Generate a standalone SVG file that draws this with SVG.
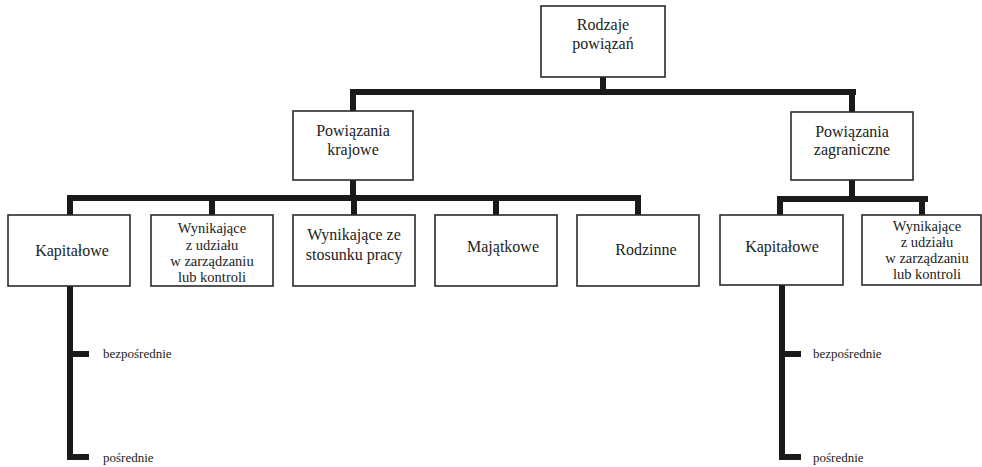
<svg xmlns="http://www.w3.org/2000/svg" width="982" height="467" viewBox="0 0 982 467">
<style>
text{font-family:'Liberation Serif','Times New Roman','DejaVu Serif',serif}
.box{fill:#fff;stroke:#2a2a2a;stroke-width:1.6}
.t{font-size:16px;fill:#222;text-anchor:middle}
.s{font-size:14.5px}
.sm{font-size:13px;fill:#222}
.c{fill:none;stroke:#1a1a1a;stroke-width:6;stroke-linejoin:miter;stroke-linecap:butt}
</style>
<rect width="982" height="467" fill="#fff"/>
<g id="connectors">
<path class="c" d="M603 77V92M350 92H856M353 92V111M852 92V112"/>
<path class="c" d="M353 180V198M67 198H641M70 198V215M212 198V215M354 198V215M496 198V215M638 198V215"/>
<path class="c" d="M852 180V199M780 202V199H925V202M780 199V215M922 199V215"/>
<path class="c" d="M70 286V457H89M70 354H89"/>
<path class="c" d="M782 285V457H801M782 354H801"/>
</g>
<g id="n-rodzaje"><rect class="box" x="541" y="6" width="124" height="71"/><text class="t" x="603" y="30">Rodzaje</text><text class="t" x="603" y="49">powiązań</text></g>
<g id="n-krajowe"><rect class="box" x="293" y="111" width="120" height="69"/><text class="t" x="353" y="136">Powiązania</text><text class="t" x="353" y="155">krajowe</text></g>
<g id="n-zagraniczne"><rect class="box" x="791" y="112" width="122" height="68"/><text class="t" x="852" y="137">Powiązania</text><text class="t" x="852" y="155">zagraniczne</text></g>
<g id="n-kap1"><rect class="box" x="8" y="215" width="122" height="71"/><text class="t" x="72" y="256">Kapitałowe</text></g>
<g id="n-wyn1"><rect class="box" x="151" y="215" width="122" height="71"/><text class="t s" x="212" y="233">Wynikające</text><text class="t s" x="212" y="250">z udziału</text><text class="t s" x="212" y="266">w zarządzaniu</text><text class="t s" x="212" y="282">lub kontroli</text></g>
<g id="n-stos"><rect class="box" x="293" y="215" width="122" height="71"/><text class="t" x="354" y="240">Wynikające ze</text><text class="t" x="354" y="260">stosunku pracy</text></g>
<g id="n-maj"><rect class="box" x="435" y="215" width="122" height="71"/><text class="t" x="503" y="252">Majątkowe</text></g>
<g id="n-rodz"><rect class="box" x="577" y="215" width="122" height="71"/><text class="t" x="646" y="255">Rodzinne</text></g>
<g id="n-kap2"><rect class="box" x="720" y="215" width="123" height="70"/><text class="t" x="782" y="252">Kapitałowe</text></g>
<g id="n-wyn2"><rect class="box" x="862" y="215" width="119" height="70"/><text class="t s" x="927" y="231">Wynikające</text><text class="t s" x="927" y="247">z udziału</text><text class="t s" x="927" y="263">w zarządzaniu</text><text class="t s" x="927" y="279">lub kontroli</text></g>
<g id="l-bez1"><text class="sm" x="103" y="358">bezpośrednie</text></g>
<g id="l-pos1"><text class="sm" x="103" y="462">pośrednie</text></g>
<g id="l-bez2"><text class="sm" x="813" y="358">bezpośrednie</text></g>
<g id="l-pos2"><text class="sm" x="813" y="462">pośrednie</text></g>
</svg>
